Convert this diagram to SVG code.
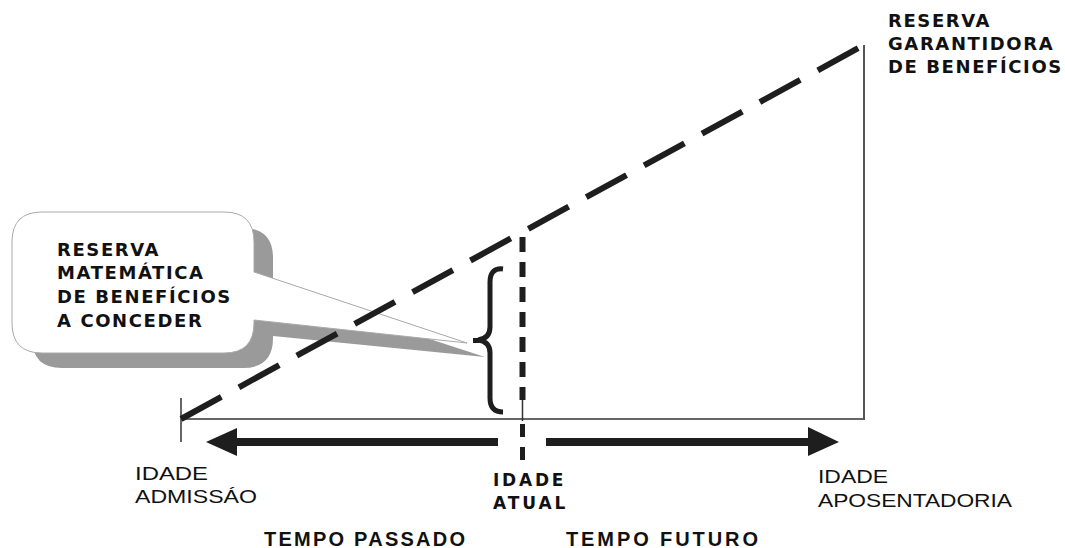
<svg xmlns="http://www.w3.org/2000/svg" width="1065" height="548" viewBox="0 0 1065 548">
<style>
.bold{font-family:"DejaVu Sans",Verdana,sans-serif;font-weight:bold;font-size:18px;fill:#111;letter-spacing:1.6px}
.reg{font-family:"Liberation Sans",Arial,sans-serif;font-size:19px;fill:#111}
.tempo{font-family:"Liberation Sans",Arial,sans-serif;font-weight:bold;font-size:20px;fill:#111}
.ink{fill:#1e1e1e}
</style>
<rect width="1065" height="548" fill="#fff"/>
<g id="axes">
<line x1="181" y1="419" x2="865" y2="419" stroke="#666" stroke-width="2"/>
<line x1="864" y1="45" x2="864" y2="420" stroke="#555" stroke-width="2"/>
<line x1="181" y1="398" x2="181" y2="442" stroke="#333" stroke-width="1.5"/>
</g>
<g id="callout">
<path d="M62,228 H243 Q273,228 273,258 V288 L485,357 L273,336 V338 Q273,368 243,368 H62 Q32,368 32,338 V258 Q32,228 62,228 Z" fill="#9a9a9a"/>
<path d="M42,212 H224 Q254,212 254,242 V272 L467,343 L254,320 V323 Q254,353 224,353 H42 Q12,353 12,323 V242 Q12,212 42,212 Z" fill="#fff" stroke="#aaa" stroke-width="1"/>
<text class="bold" x="57" y="256">RESERVA</text>
<text class="bold" x="57" y="279">MATEMÁTICA</text>
<text class="bold" x="57" y="303">DE BENEFÍCIOS</text>
<text class="bold" x="57" y="327">A CONCEDER</text>
</g>
<g id="connectors">
<line x1="181" y1="419" x2="864" y2="45" stroke="#1e1e1e" stroke-width="6" stroke-dasharray="46 20"/>
<line x1="522.5" y1="237" x2="522.5" y2="400" stroke="#1e1e1e" stroke-width="6" stroke-dasharray="15 10"/>
<line x1="522.5" y1="400" x2="522.5" y2="421" stroke="#333" stroke-width="1.5"/>
<line x1="522.5" y1="424" x2="522.5" y2="460" stroke="#1e1e1e" stroke-width="5" stroke-dasharray="13 10"/>
<path d="M503,269 C494,268 490,273 490,282 L490,327 C490,335 486,339 478,340 C486,341 490,345 490,353 L490,398 C490,407 494,412 503,412" fill="none" stroke="#1e1e1e" stroke-width="5"/>
<rect x="473" y="338" width="6" height="5" class="ink"/>
<path class="ink" d="M206,442 L237,428 V438 H498 V446 H237 V456 Z"/>
<path class="ink" d="M839,442 L808,427 V438 H546 V446 H808 V456 Z"/>
</g>
<g id="label-garantidora">
<text class="bold" x="888" y="27">RESERVA</text>
<text class="bold" x="888" y="50">GARANTIDORA</text>
<text class="bold" x="888" y="73">DE BENEFÍCIOS</text>
</g>
<g id="label-admissao">
<text class="reg" x="135" y="480" textLength="73" lengthAdjust="spacingAndGlyphs">IDADE</text>
<text class="reg" x="135" y="503" textLength="122" lengthAdjust="spacingAndGlyphs">ADMISSÁO</text>
</g>
<g id="label-atual">
<text class="bold" x="493" y="486" textLength="72" lengthAdjust="spacing" style="font-size:17px">IDADE</text>
<text class="bold" x="493" y="509" textLength="74" lengthAdjust="spacing" style="font-size:17px">ATUAL</text>
</g>
<g id="label-aposentadoria">
<text class="reg" x="818" y="483" textLength="70" lengthAdjust="spacingAndGlyphs">IDADE</text>
<text class="reg" x="818" y="507" textLength="194" lengthAdjust="spacingAndGlyphs">APOSENTADORIA</text>
</g>
<g id="label-tempo">
<text class="tempo" x="264" y="546" textLength="201" lengthAdjust="spacing">TEMPO PASSADO</text>
<text class="tempo" x="566" y="546" textLength="192" lengthAdjust="spacing">TEMPO FUTURO</text>
</g>
</svg>
